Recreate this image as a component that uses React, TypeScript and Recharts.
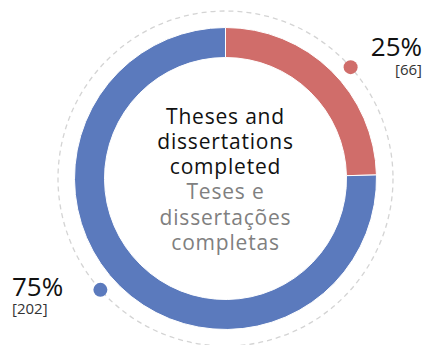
import { PieChart, Pie, Cell, Customized } from 'recharts';

const categories = ['Completed', 'Other'];
const counts = [66, 202];
const colors = ['#D06D6A', '#5B7ABD'];
const titleLines = ['Theses and', 'dissertations', 'completed'];
const subtitleLines = ['Teses e', 'dissertações', 'completas'];

const data = categories.map((name, i) => ({ name, value: counts[i] }));

const W = 427;
const H = 345;
const CX = 225.5;
const CY = 178.5;
const RING = 167.5;
const FONT = '"Open Sans", sans-serif';
const RAD = Math.PI / 180;

const renderLabel = (props: any) => {
  const { midAngle, percent, value, index } = props;
  const a = (midAngle - 4) * RAD;
  const x = CX + RING * Math.cos(a);
  const y = CY - RING * Math.sin(a);
  const right = Math.cos(a) > 0;
  const upper = Math.sin(a) > 0;
  // labels hug the outer edges of the picture
  const tx = right ? W - 5 : 12;
  const ty = upper ? y - 11 : y + 6;
  return (
    <g key={`lbl-${index}`}>
      <circle cx={x} cy={y} r={7} fill={colors[index]} />
      <text x={tx} y={ty} textAnchor={right ? 'end' : 'start'} fontFamily={FONT} fontSize={26} fill="#111">
        {`${Math.round(percent * 100)}%`}
      </text>
      <text x={tx} y={ty + 18.5} textAnchor={right ? 'end' : 'start'} fontFamily={FONT} fontSize={15} fill="#333">
        {`[${value}]`}
      </text>
    </g>
  );
};

const Backdrop = () => (
  <circle cx={CX} cy={CY} r={RING} fill="none" stroke="#d4d4d4" strokeWidth={1.3} strokeDasharray="5 4" />
);

const CenterText = () => (
  <g fontFamily={FONT} fontSize={21} textAnchor="middle" letterSpacing={0.8}>
    {titleLines.map((t, i) => (
      <text key={t} x={CX} y={124 + i * 25} fill="#111">{t}</text>
    ))}
    {subtitleLines.map((t, i) => (
      <text key={t} x={CX} y={199 + i * 25.5} fill="#808080">{t}</text>
    ))}
  </g>
);

export default function App() {
  return (
    <div style={{ width: W, height: H, background: '#fff' }}>
      <style>{'body{margin:0}'}</style>
      <PieChart width={W} height={H} margin={{ top: 0, right: 0, bottom: 0, left: 0 }}>
        <Customized component={Backdrop} />
        <Pie
          data={data}
          dataKey="value"
          nameKey="name"
          cx={CX}
          cy={CY}
          innerRadius={121}
          outerRadius={151}
          startAngle={90}
          endAngle={-270}
          stroke="#fff"
          strokeWidth={1}
          label={renderLabel}
          labelLine={false}
          isAnimationActive={false}
        >
          {data.map((d, i) => (
            <Cell key={d.name} fill={colors[i]} />
          ))}
        </Pie>
        <Customized component={CenterText} />
      </PieChart>
    </div>
  );
}
